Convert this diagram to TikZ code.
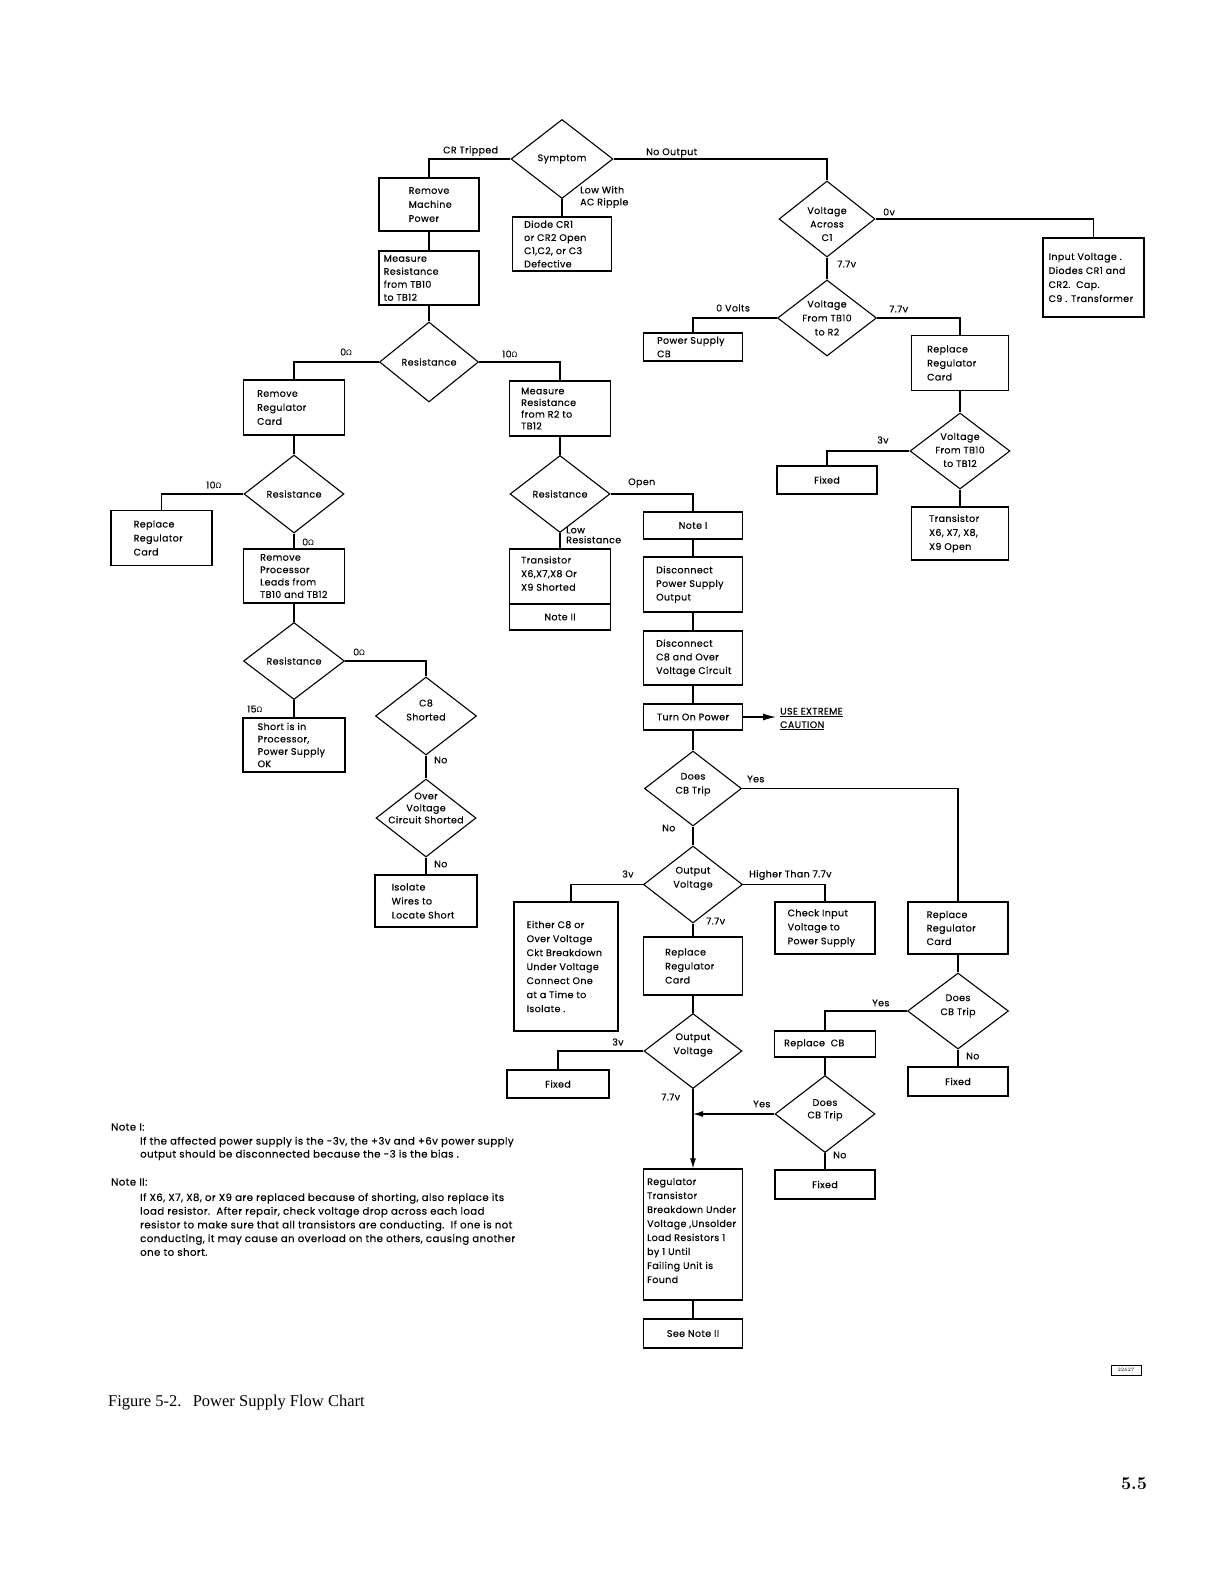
\documentclass[tikz,border=0pt]{standalone}
\usepackage{fontspec}
\newfontfamily\popf{Poppins}[LetterSpace=4.0,FakeBold=0.25]
\newfontfamily\dvs{DejaVu Sans}
\newfontfamily\capf{Liberation Serif}
\usetikzlibrary{shapes.geometric,arrows.meta}
\newcommand{\bxfont}{\popf\fontsize{9.5}{13.6}\selectfont}
\newcommand{\ohmsym}{{\dvs\fontsize{7.5}{7.5}\selectfont Ω}}
% box with left-aligned text: [text opts]{name}{cx}{cy}{w}{h}{left offset}{text}
\newcommand{\mybox}[8][]{%
  \node[box, minimum width=#5pt, minimum height=#6pt] (#2) at (#3,#4) {};
  \node[txt, anchor=west, #1] (#2-t) at ([xshift=#7pt]#2.west) {#8};}
% box with centred text: [text opts]{name}{cx}{cy}{w}{h}{text}
\newcommand{\myboxc}[7][]{%
  \node[box, minimum width=#5pt, minimum height=#6pt] (#2) at (#3,#4) {};
  \node[txt, align=center, #1] (#2-t) at (#2.center) {#7};}
% diamond: [text opts]{name}{cx}{cy}{w}{h}{yshift up}{text}
\newcommand{\mydia}[8][]{%
  \node[dia, minimum width=#5pt, minimum height=#6pt] (#2) at (#3,#4) {};
  \node[txt, align=center, #1] (#2-t) at ([yshift=#7pt]#2.center) {#8};}
\tikzset{
  box/.style={draw, line width=1.1pt, rectangle, inner sep=0pt},
  dia/.style={draw, line width=1.1pt, diamond, inner sep=0pt},
  txt/.style={inner sep=0pt, align=left, font=\bxfont},
  lsp/.style={font={\popf\fontsize{9.5}{#1}\selectfont}},
  nsp/.style={font={\popf\fontsize{10.2}{#1}\selectfont}},
  lbl/.style={inner sep=0pt, anchor=west, align=left, font=\bxfont},
  ln/.style={line width=1.1pt},
  bigtip/.style={-{Latex[length=13pt,width=7pt]}},
  smalltip/.style={-{Latex[length=10pt,width=6pt]}},
}
\begin{document}
\begin{tikzpicture}[x=1pt,y=-1pt]
\fill[white] (0,0) rectangle (1224,1584);
\useasboundingbox (0,0) rectangle (1224,1584);

% ---------- top ----------
\mydia{sym}{562}{159}{102}{79}{0}{Symptom}
\mybox[lsp=14]{rmp}{429}{204.5}{100}{53}{30}{Remove\\Machine\\Power}
\mybox[lsp=13]{mrt}{429}{278}{100}{54}{5}{Measure\\Resistance\\from TB10\\to TB12}
\mybox[lsp=13.2]{dio}{562}{244}{99}{54}{12}{Diode CR1\\or CR2 Open\\C1,C2, or C3\\Defective}

\mydia[lsp=13.5]{vac}{827}{219}{96}{76}{-5}{Voltage\\Across\\C1}
\mybox[lsp=14]{inv}{1093.5}{277.5}{101}{79}{6}{Input Voltage .\\Diodes CR1 and\\CR2.\ \ Cap.\\C9 . Transformer}
\mydia[lsp=14]{vtr}{827}{318}{99}{76}{0}{Voltage\\From TB10\\to R2}
\mybox[lsp=13.5]{psc}{693}{347}{99}{28}{14}{Power Supply\\CB}
\mybox[lsp=14]{rrc1}{960}{363}{97}{55}{16}{Replace\\Regulator\\Card}
\mydia[lsp=13.5]{vtt}{960}{451}{100}{76}{1}{Voltage\\From TB10\\to TB12}
\myboxc{fx1}{827}{480}{100}{28}{Fixed}
\mybox[lsp=14]{tro}{960}{533.5}{97}{53}{18}{Transistor\\X6, X7, X8,\\X9 Open}

% ---------- resistance branch ----------
\mydia{r1}{429}{362}{99}{80}{0}{Resistance}
\mybox[lsp=14]{rrc2}{294}{407.5}{101}{55}{14}{Remove\\Regulator\\Card}
\mybox[lsp=11.7]{mr2}{560}{408.5}{101}{55}{12}{Measure\\Resistance\\from R2 to\\TB12}
\mydia{r2}{294}{494}{100}{78}{0}{Resistance}
\mybox[lsp=14]{rrc3}{161.5}{538}{101}{55}{23}{Replace\\Regulator\\Card}
\mybox[lsp=12.4]{rpl}{294}{576}{101}{54}{17}{Remove\\Processor\\Leads from\\TB10 and TB12}
\mydia{r3}{560}{494}{100}{77}{0}{Resistance}
\mybox[lsp=13.6,yshift=3pt]{trs}{560}{576.5}{101}{55}{12}{Transistor\\X6,X7,X8 Or\\X9 Shorted}
\myboxc{n2}{560}{617}{101}{26}{Note II}

\myboxc{n1}{693}{525.5}{99}{27}{Note I}
\mybox[lsp=13.6]{dps}{693}{584.5}{99}{55}{13}{Disconnect\\Power Supply\\Output}
\mybox[lsp=13.6]{dc8}{693}{658}{99}{54}{13}{Disconnect\\C8 and Over\\Voltage Circuit}
\myboxc{top}{693}{717}{99}{26}{Turn On Power}
\coordinate (cw) at (776,717);
\node[lbl, lsp=13.5] (caut) at (780,719) {\underline{USE EXTREME}\\\underline{CAUTION}};

\mydia[lsp=14]{cb1}{693}{788.5}{97}{75}{4}{Does\\CB Trip}
\mydia[lsp=14]{ov1}{693}{884.5}{99}{77}{6}{Output\\Voltage}
\mybox[lsp=14]{eit}{566}{966.5}{104}{129}{13}{Either C8 or\\Over Voltage\\Ckt Breakdown\\Under Voltage\\Connect One\\at a Time to\\Isolate .}
\mybox[lsp=14]{cip}{825}{928}{100}{52}{13}{Check Input\\Voltage to\\Power Supply}
\mybox[lsp=14]{rrc4}{693}{966}{99}{58}{22}{Replace\\Regulator\\Card}
\mybox[lsp=13.5]{rrc5}{958}{928}{100}{52}{19}{Replace\\Regulator\\Card}
\mydia[lsp=14]{ov2}{693}{1051}{98}{75}{6}{Output\\Voltage}
\myboxc{fx2}{558}{1084}{102}{28}{Fixed}
\mydia[lsp=14]{cb2}{958}{1011}{101}{76}{5}{Does\\CB Trip}
\mybox{rcb}{825}{1044}{101}{26}{10}{Replace\ \ CB}
\myboxc{fx3}{958}{1081.5}{100}{29}{Fixed}
\mydia[lsp=12.5]{cb3}{825}{1114}{100}{77}{4}{Does\\CB Trip}
\myboxc{fx4}{825}{1184.5}{100}{29}{Fixed}
\mybox[lsp=14,yshift=4pt]{rtb}{693}{1234.5}{99}{131}{4}{Regulator\\Transistor\\Breakdown Under\\Voltage ,Unsolder\\Load Resistors 1\\by 1 Until\\Failing Unit is\\Found}
\myboxc{snt}{693}{1333.5}{99}{29}{See Note II}

% ---------- lower left ----------
\mydia{r4}{294}{661}{101}{77}{0}{Resistance}
\mybox[lsp=12.4]{sip}{294}{745}{102}{54}{15}{Short is in\\Processor,\\Power Supply\\OK}
\mydia[lsp=14]{c8s}{426}{716}{101}{78}{6}{C8\\Shorted}
\mydia[lsp=12]{ovc}{426}{818}{100}{78}{10}{Over\\Voltage\\Circuit Shorted}
\mybox[lsp=14]{iso}{426}{901}{102}{52}{17}{Isolate\\Wires to\\Locate Short}

% ---------- connectors ----------
\draw[ln] (sym.west) -| (rmp.north);
\draw[ln] (sym.south) -- (dio.north);
\draw[ln] (sym.east) -| (vac.north);
\draw[ln] (rmp.south) -- (mrt.north);
\draw[ln] (mrt.south) -- (r1.north);
\draw[ln] (vac.south) -- (vtr.north);
\draw[ln] (vac.east) -| (inv.north);
\draw[ln] (vtr.west) -| (psc.north);
\draw[ln] (vtr.east) -| (rrc1.north);
\draw[ln] (rrc1.south) -- (vtt.north);
\draw[ln] (vtt.west) -| (fx1.north);
\draw[ln] (vtt.south) -- (tro.north);
\draw[ln] (r1.west) -| (rrc2.north);
\draw[ln] (r1.east) -| (mr2.north);
\draw[ln] (rrc2.south) -- (r2.north);
\draw[ln] (r2.west) -| (rrc3.north);
\draw[ln] (r2.south) -- (rpl.north);
\draw[ln] (mr2.south) -- (r3.north);
\draw[ln] (r3.south) -- (trs.north);
\draw[ln] (r3.east) -| (n1.north);
\draw[ln] (n1.south) -- (dps.north);
\draw[ln] (dps.south) -- (dc8.north);
\draw[ln] (dc8.south) -- (top.north);
\draw[ln, bigtip] (top.east) -- (cw);
\draw[ln] (top.south) -- (cb1.north);
\draw[ln] (cb1.east) -| (rrc5.north);
\draw[ln] (cb1.south) -- (ov1.north);
\draw[ln] (ov1.west) -| ([xshift=5pt]eit.north);
\draw[ln] (ov1.east) -| (cip.north);
\draw[ln] (ov1.south) -- (rrc4.north);
\draw[ln] (rrc4.south) -- (ov2.north);
\draw[ln] (ov2.west) -| (fx2.north);
\draw[ln, smalltip] (ov2.south) -- (rtb.north);
\draw[ln] (rrc5.south) -- (cb2.north);
\draw[ln] (cb2.west) -| (rcb.north);
\draw[ln] (cb2.south) -- (fx3.north);
\draw[ln] (rcb.south) -- (cb3.north);
\draw[ln] (cb3.south) -- (fx4.north);
\draw[ln, smalltip] (cb3.west) -- (cb3.west -| ov2.south);
\draw[ln] (rtb.south) -- (snt.north);
\draw[ln] (rpl.south) -- (r4.north);
\draw[ln] (r4.east) -| (c8s.north);
\draw[ln] (r4.south) -- (sip.north);
\draw[ln] (c8s.south) -- (ovc.north);
\draw[ln] (ovc.south) -- (iso.north);

% ---------- connector labels ----------
\node[lbl] (l-crt) at (443,151) {CR Tripped};
\node[lbl, lsp=12] (l-low) at (580,197) {Low With\\AC Ripple};
\node[lbl] (l-nout) at (646,153) {No Output};
\node[lbl] (l-0v) at (883,212) {0v};
\node[lbl] (l-77a) at (837,264) {7.7v};
\node[lbl] (l-0volt) at (716,308) {0 Volts};
\node[lbl] (l-77b) at (889,309) {7.7v};
\node[lbl] (l-3va) at (877,440) {3v};
\node[lbl] (l-o1) at (340,352) {0\ohmsym};
\node[lbl] (l-o2) at (502,354) {10\ohmsym};
\node[lbl] (l-o3) at (206,485) {10\ohmsym};
\node[lbl] (l-o4) at (302,542) {0\ohmsym};
\node[lbl] (l-open) at (628,483) {Open};
\node[lbl, lsp=10] (l-lowr) at (566,535) {Low\\Resistance};
\node[lbl] (l-yes1) at (747,779) {Yes};
\node[lbl] (l-no1) at (662,828) {No};
\node[lbl] (l-3vb) at (622,874) {3v};
\node[lbl] (l-hi) at (749,875) {Higher Than 7.7v};
\node[lbl] (l-77c) at (706,921) {7.7v};
\node[lbl] (l-yes2) at (872,1003) {Yes};
\node[lbl] (l-no2) at (966,1056) {No};
\node[lbl] (l-3vc) at (612,1042) {3v};
\node[lbl] (l-77d) at (661,1097) {7.7v};
\node[lbl] (l-yes3) at (753,1104) {Yes};
\node[lbl] (l-no3) at (833,1155) {No};
\node[lbl] (l-o5) at (353,652) {0\ohmsym};
\node[lbl] (l-o6) at (247,709) {15\ohmsym};
\node[lbl] (l-no4) at (434,760) {No};
\node[lbl] (l-no5) at (434,864) {No};

% ---------- notes ----------
\node[lbl, nsp=13] (n1h) at (111,1127) {Note I:};
\node[lbl, nsp=13] (n1b) at (140,1148.5) {If the affected power supply is the -3v, the +3v and +6v power supply\\output should be disconnected because the -3 is the bias .};
\node[lbl, nsp=13] (n2h) at (111,1182) {Note II:};
\node[lbl, nsp=13.7] (n2b) at (140,1224.5) {If X6, X7, X8, or X9 are replaced because of shorting, also replace its\\load resistor.\ \ After repair, check voltage drop across each load\\resistor to make sure that all transistors are conducting.\ \ If one is not\\conducting, it may cause an overload on the others, causing another\\one to short.};

% ---------- page furniture ----------
\node[anchor=west, inner sep=0pt, font={\capf\fontsize{16.5}{18}\selectfont}] (cap) at (108,1403) {Figure 5-2.\hspace{0.35em} Power Supply Flow Chart};
\node[draw, line width=0.6pt, minimum width=30pt, minimum height=10pt, inner sep=0pt, font=\fontsize{5}{5}\selectfont] (tag) at (1126,1370) {22627};
\node[inner sep=0pt, font=\bfseries\fontsize{18}{20}\selectfont] (pg) at (1134,1484) {5.5};
\end{tikzpicture}
\end{document}
